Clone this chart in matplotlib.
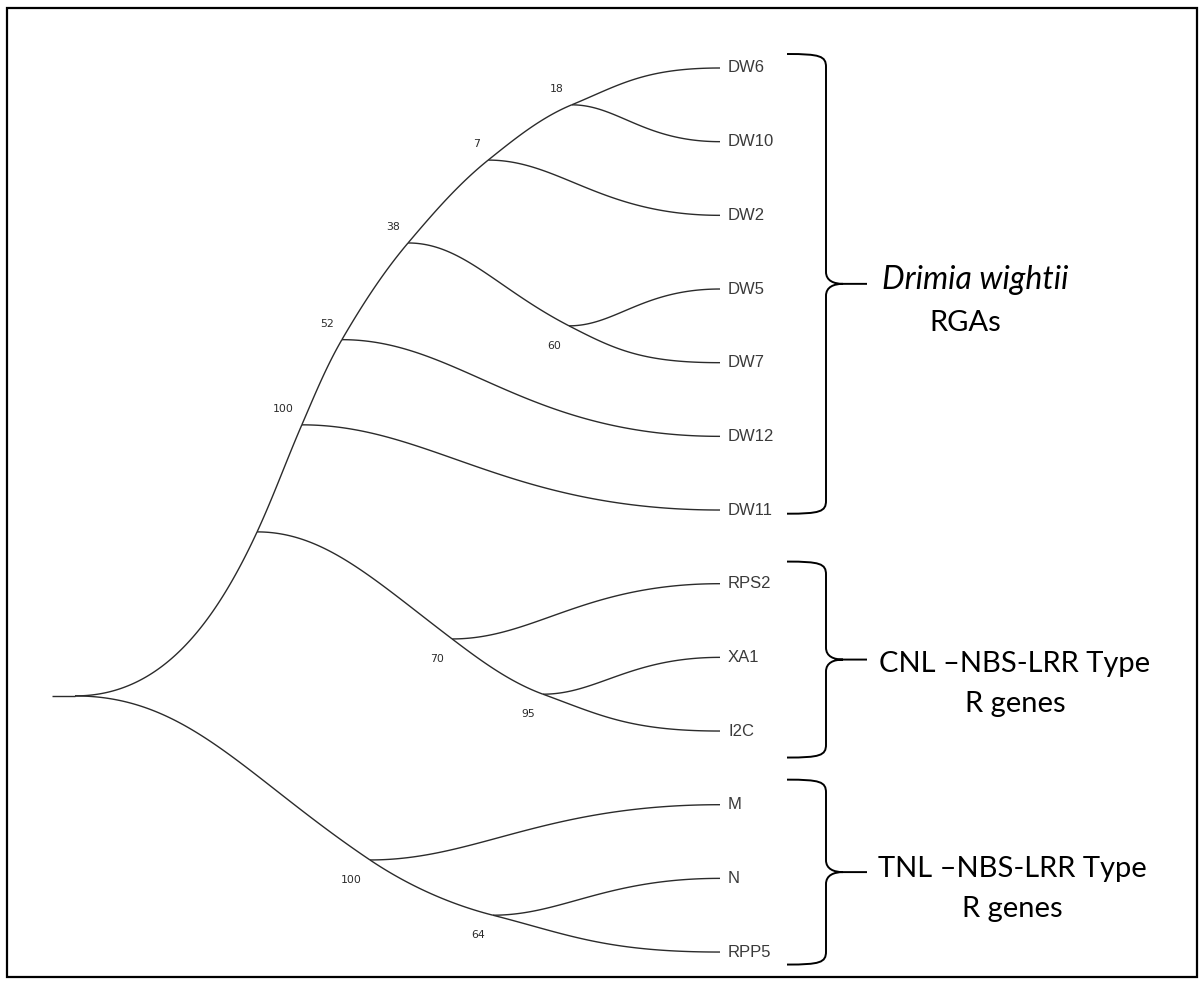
import numpy as np
import matplotlib
matplotlib.use("Agg")
import matplotlib.pyplot as plt
from matplotlib.path import Path
from matplotlib.patches import PathPatch, Rectangle

# ---------------- data ----------------
leaf_names = ["DW6", "DW10", "DW2", "DW5", "DW7", "DW12", "DW11",
              "RPS2", "XA1", "I2C", "M", "N", "RPP5"]
node_names = ["n18", "n7", "n60", "n38", "n52", "n100a",
              "n95", "n70", "nA", "n64", "n100b", "root"]
node_children = [("DW6", "DW10"), ("n18", "DW2"), ("DW5", "DW7"), ("n7", "n60"),
                 ("n38", "DW12"), ("n52", "DW11"), ("XA1", "I2C"), ("RPS2", "n95"),
                 ("n100a", "n70"), ("N", "RPP5"), ("M", "n64"), ("nA", "n100b")]
node_depth = [0.778, 0.653, 0.774, 0.533, 0.434, 0.374,
              0.735, 0.599, 0.307, 0.660, 0.476, 0.0]
node_support = ["18", "7", "60", "38", "52", "100", "95", "70", "", "64", "100", ""]
leaf_depth = 1.0

group_lines = [["Drimia wightii", "RGAs"],
               ["CNL \u2013NBS-LRR Type", "R genes"],
               ["TNL \u2013NBS-LRR Type", "R genes"]]
group_span = [(-0.19, 6.05), (6.70, 9.36), (9.66, 12.17)]

# ---------------- layout ----------------
W, H = 1204, 984
X0, XS = 52.0, 668.0      # pixel of depth 0, pixels per depth unit
Y0, YS = 68.0, 73.67      # pixel of leaf 0, pixels per leaf step

def px(d): return X0 + XS * np.asarray(d)
def py(i): return Y0 + YS * np.asarray(i)
def ix(p): return (np.asarray(p) - X0) / XS
def iy(p): return (np.asarray(p) - Y0) / YS

fig = plt.figure(figsize=(W / 100, H / 100), dpi=100)
ax = fig.add_axes([0, 0, 1, 1])
ax.set_xlim(ix(0), ix(W))
ax.set_ylim(iy(H), iy(0))
ax.axis("off")

LC = "#2b2b2b"
LW = 1.0

pos = {}
for i, n in enumerate(leaf_names):
    pos[n] = np.array([px(leaf_depth), py(i)], dtype=float)
children = dict(zip(node_names, node_children))
parent = {}
for n, ch in children.items():
    for c in ch:
        parent[c] = n
for n, ch, d in zip(node_names, node_children, node_depth):
    pos[n] = np.array([px(d), np.mean([pos[c][1] for c in ch])], dtype=float)

ROOT = "root"
STUB = 23.0

def start_pt(n):
    x, y = pos[n]
    return np.array([x + STUB, y]) if n == ROOT else np.array([x, y])

def cont_child(n):
    if n == ROOT:
        return None
    ch = children[n]
    ys = [pos[c][1] for c in ch]
    if pos[n][1] < pos[parent[n]][1]:
        return ch[int(np.argmin(ys))]
    return ch[int(np.argmax(ys))]

tang = {}
for n in reversed(node_names):
    if n == ROOT:
        continue
    p = parent[n]
    s = start_pt(p)
    x, y = pos[n]
    a_in = np.arctan2(y - s[1], x - s[0])
    c = cont_child(n)
    a_out = np.arctan2(pos[c][1] - y, pos[c][0] - x)
    a_start = tang[p] if (p != ROOT and cont_child(p) == n) else 0.0
    tang[n] = 0.5 * (a_in + a_out) + 0.25 * (a_in - a_start)

def bezier(p0, p1, p2, p3, n=120):
    t = np.linspace(0, 1, n)[:, None]
    return ((1 - t) ** 3) * p0 + 3 * ((1 - t) ** 2) * t * p1 + 3 * (1 - t) * t ** 2 * p2 + t ** 3 * p3

# root stub
ax.plot(ix([pos[ROOT][0], pos[ROOT][0] + STUB]), iy([pos[ROOT][1]] * 2),
        color=LC, lw=LW, solid_capstyle="butt")

for n in node_names:
    s = start_pt(n)
    for c in children[n]:
        e = pos[c]
        chord = float(np.hypot(*(e - s)))
        is_cont = (n != ROOT and cont_child(n) == c)
        if is_cont:
            a0, hs = tang[n], 1 / 3
        else:
            a0, hs = 0.0, (1 / 3 if n == ROOT else 0.3)
        if c in tang:
            a1, he = tang[c], (1 / 3 if is_cont else 0.45)
        else:
            a1, he = 0.0, 0.5
        u0 = np.array([np.cos(a0), np.sin(a0)])
        u1 = np.array([np.cos(a1), np.sin(a1)])
        p1 = s + u0 * hs * chord
        p2 = e - u1 * he * chord
        pts = bezier(s, p1, p2, e)
        ax.plot(ix(pts[:, 0]), iy(pts[:, 1]), color=LC, lw=LW,
                solid_capstyle="butt")

# leaf labels
for i, n in enumerate(leaf_names):
    ax.text(ix(px(leaf_depth) + 8), i, n, ha="left", va="center",
            fontsize=12, family="Liberation Sans", color="#3a3a3a")

# bootstrap values
for n, sup in zip(node_names, node_support):
    if not sup:
        continue
    x, y = pos[n]
    above = pos[n][1] < pos[parent[n]][1]
    ty = y - 16 if above else y + 20
    ax.text(ix(x - 8), iy(ty), sup, ha="right", va="center",
            fontsize=7.8, family="DejaVu Sans", color="#2a2a2a")

# braces
XL, XSP, XT, XE = 787.0, 826.0, 843.0, 867.0
for (t, b) in group_span:
    yt, yb = float(py(t)), float(py(b))
    ym = 0.5 * (yt + yb)
    verts = [(XL, yt), (XSP - 6, yt), (XSP, yt + 2), (XSP, yt + 13),
             (XSP, ym - 12),
             (XSP, ym - 3), (XSP + 8, ym), (XT, ym),
             (XE, ym),
             (XT, ym), (XSP + 8, ym), (XSP, ym + 3), (XSP, ym + 12),
             (XSP, yb - 13),
             (XSP, yb - 2), (XSP - 6, yb), (XL, yb)]
    codes = [Path.MOVETO, Path.CURVE4, Path.CURVE4, Path.CURVE4,
             Path.LINETO,
             Path.CURVE4, Path.CURVE4, Path.CURVE4,
             Path.LINETO,
             Path.MOVETO, Path.CURVE4, Path.CURVE4, Path.CURVE4,
             Path.LINETO,
             Path.CURVE4, Path.CURVE4, Path.CURVE4]
    vv = np.array(verts)
    vd = np.column_stack([ix(vv[:, 0]), iy(vv[:, 1])])
    ax.add_patch(PathPatch(Path(vd, codes), fill=False, ec="black", lw=1.4))

# group labels
GF = "Lato"
GS = 21
ax.text(ix(882), iy(289), group_lines[0][0], ha="left", va="baseline",
        fontsize=23, family=GF, style="italic", color="black")
ax.text(ix(929), iy(331), group_lines[0][1], ha="left", va="baseline",
        fontsize=GS, family=GF, color="black")
ax.text(ix(1015), iy(672), group_lines[1][0], ha="center", va="baseline",
        fontsize=GS, family=GF, color="black")
ax.text(ix(1015), iy(712), group_lines[1][1], ha="center", va="baseline",
        fontsize=GS, family=GF, color="black")
ax.text(ix(1012), iy(877), group_lines[2][0], ha="center", va="baseline",
        fontsize=GS, family=GF, color="black")
ax.text(ix(1012), iy(917), group_lines[2][1], ha="center", va="baseline",
        fontsize=GS, family=GF, color="black")

# outer frame
fig.patches.append(Rectangle((7 / W, 1 - 977 / H), 1190 / W, 969 / H,
                             transform=fig.transFigure, fill=False,
                             ec="black", lw=1.6))

fig.savefig("out.png", dpi=100)
